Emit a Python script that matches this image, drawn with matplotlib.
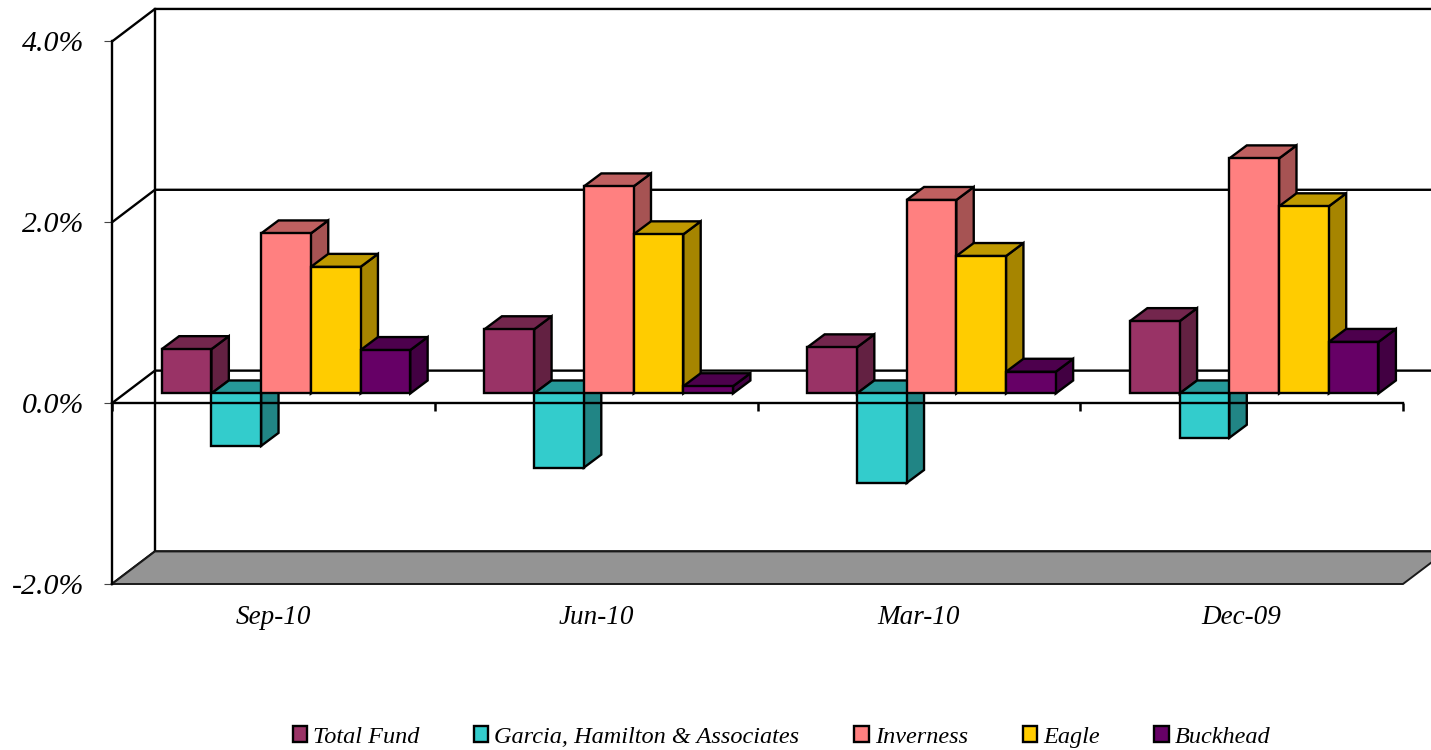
import matplotlib
matplotlib.use("Agg")
import matplotlib.pyplot as plt
from matplotlib.colors import to_rgb
from matplotlib.patches import Polygon

quarters = ["Sep-10", "Jun-10", "Mar-10", "Dec-09"]
y_ticks = [-2, 0, 2, 4]
y_tick_labels = ["-2.0%", "0.0%", "2.0%", "4.0%"]

series_names = ["Total Fund", "Garcia, Hamilton & Associates", "Inverness", "Eagle", "Buckhead"]
series_colors = ["#993366", "#33CCCC", "#FF8080", "#FFCC00", "#660066"]

total_fund = [0.49, 0.71, 0.51, 0.80]
garcia = [-0.58, -0.82, -0.99, -0.49]
inverness = [1.77, 2.29, 2.14, 2.60]
eagle = [1.40, 1.76, 1.52, 2.07]
buckhead = [0.48, 0.08, 0.24, 0.57]
all_series = [total_fund, garcia, inverness, eagle, buckhead]

# fake 3D offsets, in data units
WALL_DX, WALL_DY = 0.133, 0.36
BAR_SHIFT_X, BAR_SHIFT_Y = 0.039, 0.107
BAR_DX, BAR_DY = 0.054, 0.144
BAR_WIDTH = 0.154

LW = 1.7


def shade(color, factor):
    return tuple(c * factor for c in to_rgb(color))


def main():
    plt.rcParams["font.family"] = ["Liberation Serif", "DejaVu Serif"]
    plt.rcParams["font.style"] = "italic"

    fig = plt.figure(figsize=(14.31, 7.5), dpi=100)
    ax = fig.add_axes([112 / 1431, 166 / 750, 1291 / 1431, 542.5 / 750])
    ax.set_xlim(0, 4)
    ax.set_ylim(-2, 4)
    ax.patch.set_visible(False)

    # back wall and floor
    floor = Polygon(
        [(0, -2), (4, -2), (4 + WALL_DX, -2 + WALL_DY), (WALL_DX, -2 + WALL_DY)],
        closed=True, facecolor="#949494", edgecolor="#1a1a1a", linewidth=1.4,
        clip_on=False, zorder=0.6,
    )
    ax.add_patch(floor)
    for tick in y_ticks:
        ax.plot([0, WALL_DX, 4 + WALL_DX], [tick, tick + WALL_DY, tick + WALL_DY],
                color="black", lw=LW, clip_on=False, zorder=0.5, solid_joinstyle="miter")
    ax.plot([WALL_DX, WALL_DX], [-2 + WALL_DY, 4 + WALL_DY], color="black", lw=LW,
            clip_on=False, zorder=0.5)

    # bars, left to right so the later ones cover the earlier side faces
    for j, values in enumerate(all_series):
        color = series_colors[j]
        xs = [i + 0.5 + (j - 2) * BAR_WIDTH + BAR_SHIFT_X for i in range(len(quarters))]
        for x, v in zip(xs, values):
            x0 = x - BAR_WIDTH / 2
            x1 = x + BAR_WIDTH / 2
            base = BAR_SHIFT_Y
            top = base + max(v, 0)
            low = base + min(v, 0)
            cap = [(x0, top), (x1, top), (x1 + BAR_DX, top + BAR_DY), (x0 + BAR_DX, top + BAR_DY)]
            side = [(x1, low), (x1 + BAR_DX, low + BAR_DY), (x1 + BAR_DX, top + BAR_DY), (x1, top)]
            ax.add_patch(Polygon(side, closed=True, facecolor=shade(color, 0.65),
                                 edgecolor="black", linewidth=LW, clip_on=False))
            ax.add_patch(Polygon(cap, closed=True, facecolor=shade(color, 0.75),
                                 edgecolor="black", linewidth=LW, clip_on=False))
        ax.bar(xs, values, BAR_WIDTH, bottom=BAR_SHIFT_Y, color=color, edgecolor="black",
               linewidth=LW, label=series_names[j], clip_on=False)

    # axes lines
    ax.spines["top"].set_visible(False)
    ax.spines["right"].set_visible(False)
    ax.spines["left"].set_linewidth(LW)
    ax.spines["bottom"].set_position(("data", 0))
    ax.spines["bottom"].set_linewidth(LW)

    ax.set_yticks(y_ticks)
    ax.set_yticklabels(y_tick_labels, fontsize=21.5)
    ax.tick_params(axis="y", direction="out", length=5.8, width=0.8, color="#444444", pad=14)
    ax.set_xticks(range(len(quarters) + 1))
    ax.set_xticklabels([])
    ax.tick_params(axis="x", direction="out", length=5.8, width=1.8, color="black")

    for i, q in enumerate(quarters):
        ax.text(i + 0.5, -2.375, q, ha="center", va="center", fontsize=19.5)

    ax.legend(
        loc="center", bbox_to_anchor=(781.5 / 1431, 13 / 750),
        bbox_transform=fig.transFigure, ncols=5, frameon=False, fontsize=17.5,
        handlelength=0.58, handleheight=0.58, handletextpad=0.25, columnspacing=2.26,
        borderpad=0, borderaxespad=0,
    )

    fig.savefig("out.png", dpi=100)
    plt.close(fig)


if __name__ == "__main__":
    main()
